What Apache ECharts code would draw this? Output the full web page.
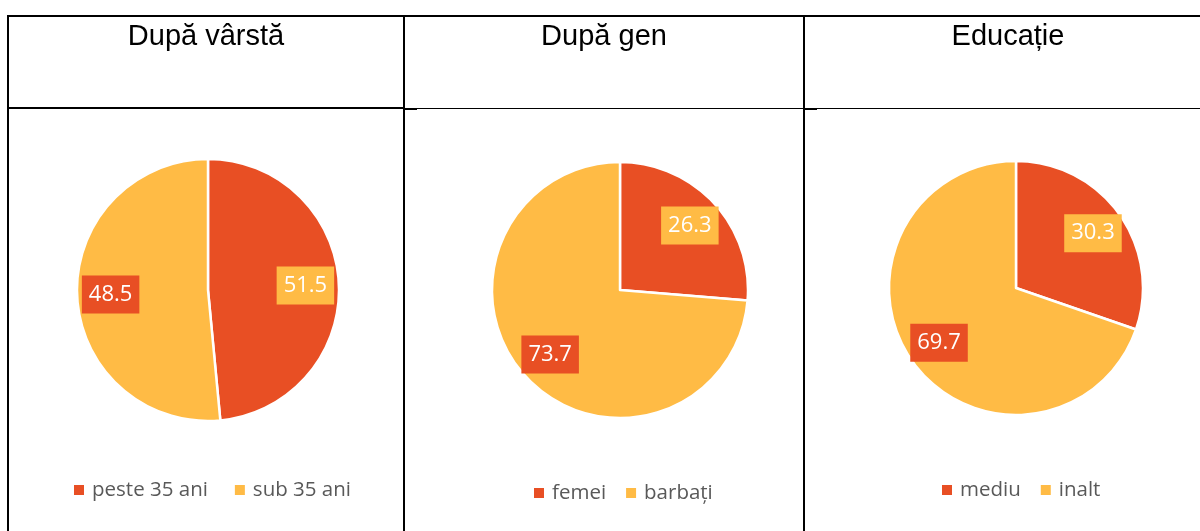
<!DOCTYPE html>
<html>
<head>
<meta charset="utf-8">
<script src="https://cdn.jsdelivr.net/npm/echarts@6/dist/echarts.min.js"></script>
<style>
  html, body { margin: 0; padding: 0; background: #fff; }
  #main { width: 1200px; height: 531px; }
</style>
</head>
<body>
<div id="main"></div>
<script>
// panel titles
const panelTitles = ['După vârstă', 'După gen', 'Educație'];

// age: slices as drawn, and the data labels as printed on them
const ageNames = ['peste 35 ani', 'sub 35 ani'];
const ageShares = [48.5, 51.5];
const ageLabels = [51.5, 48.5];

// gender
const genderNames = ['femei', 'barbați'];
const genderShares = [26.3, 73.7];
const genderLabels = [26.3, 73.7];

// education
const eduNames = ['mediu', 'inalt'];
const eduShares = [30.3, 69.7];
const eduLabels = [30.3, 69.7];

const RED = '#E84F24';
const YELLOW = '#FFBB45';
const colors = [RED, YELLOW];

var chartDom = document.getElementById('main');
var myChart = echarts.init(chartDom);

// build the visible pie plus a transparent ring that only carries the labels
function piePanel(names, shares, labels, center, r) {
    let pie = {
        type: 'pie',
        center: center,
        radius: r,
        startAngle: 90,
        clockwise: true,
        silent: true,
        label: { show: false },
        labelLine: { show: false },
        itemStyle: { borderColor: '#fff', borderWidth: 2.5 },
        data: names.map((n, i) => ({ name: n, value: shares[i], itemStyle: { color: colors[i] } }))
    };
    let ring = {
        type: 'pie',
        center: center,
        radius: [Math.round(r * 0.44), r],
        startAngle: 90,
        clockwise: true,
        silent: true,
        legendHoverLink: false,
        itemStyle: { color: 'rgba(0,0,0,0)', borderWidth: 0 },
        labelLine: { show: false },
        data: names.map((n, i) => ({
            name: n,
            value: shares[i],
            label: {
                show: true,
                position: 'inside',
                formatter: () => labels[i].toFixed(1),
                color: '#fff',
                fontFamily: 'Open Sans',
                fontSize: 22,
                lineHeight: 22,
                padding: [8, 7, 8, 7],
                backgroundColor: colors[1 - i]
            }
        }))
    };
    return [pie, ring];
}

function legendFor(names, left, top, gap) {
    return {
        data: names,
        left: left,
        top: top,
        padding: 0,
        orient: 'horizontal',
        icon: 'rect',
        itemWidth: 10,
        itemHeight: 10,
        itemGap: gap,
        selectedMode: false,
        itemStyle: { borderWidth: 0 },
        textStyle: {
            color: '#595959',
            fontFamily: 'Open Sans',
            fontSize: 20.5,
            lineHeight: 24,
            padding: [0, 0, 0, 3]
        }
    };
}

// table borders
function hline(x1, x2, y, w) {
    return { type: 'line', shape: { x1: x1, y1: y, x2: x2, y2: y }, style: { stroke: '#000', lineWidth: w }, silent: true };
}
function vline(x, y1, y2) {
    return { type: 'line', shape: { x1: x, y1: y1, x2: x, y2: y2 }, style: { stroke: '#000', lineWidth: 2 }, silent: true };
}
function titleText(text, x) {
    return {
        type: 'text', x: x, y: 37, silent: true,
        style: {
            text: text, fill: '#000', font: '29px "Liberation Sans", Arial, sans-serif',
            textAlign: 'center', textVerticalAlign: 'middle'
        }
    };
}

let option = {
    animation: false,
    backgroundColor: '#fff',
    legend: [
        legendFor(ageNames, 74, 478, 27),
        legendFor(genderNames, 534, 481, 20),
        legendFor(eduNames, 942, 478, 20)
    ],
    graphic: [
        hline(7, 1200, 16, 2),
        vline(8, 15, 531),
        vline(404, 15, 531),
        vline(804, 15, 531),
        hline(7, 404, 108, 2),
        hline(404, 417, 109, 2),
        hline(404, 804, 108.5, 1),
        hline(804, 817, 109, 2),
        hline(804, 1200, 108.5, 1),
        titleText(panelTitles[0], 206),
        titleText(panelTitles[1], 604),
        titleText(panelTitles[2], 1008)
    ],
    series: [].concat(
        piePanel(ageNames, ageShares, ageLabels, [208, 290], 131),
        piePanel(genderNames, genderShares, genderLabels, [620, 290], 128),
        piePanel(eduNames, eduShares, eduLabels, [1016, 288], 127)
    )
};

option && myChart.setOption(option);
</script>
</body>
</html>
